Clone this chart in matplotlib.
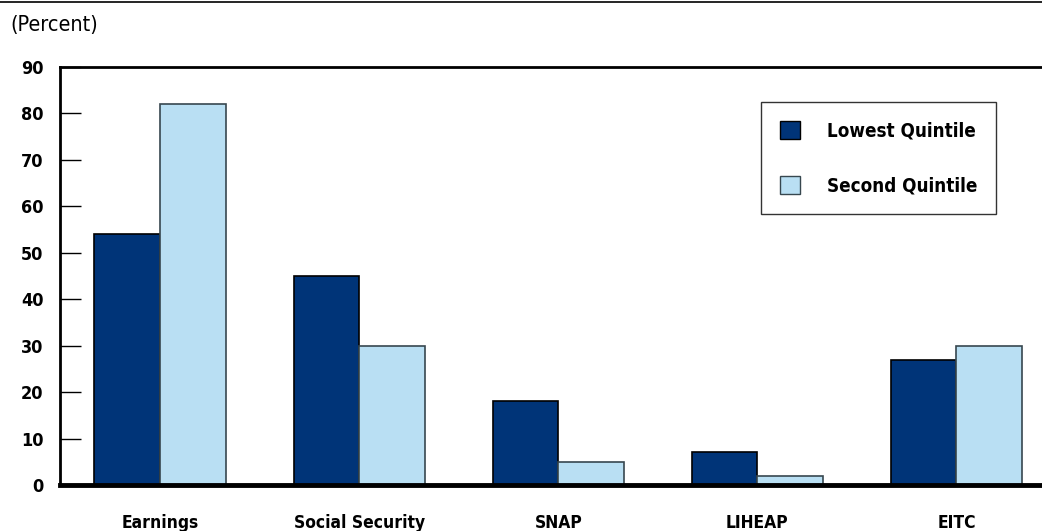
import matplotlib.pyplot as plt
import numpy as np
from matplotlib.lines import Line2D
from matplotlib.patches import Patch

plt.rcParams['font.family'] = ['DejaVu Sans']
plt.rcParams['font.stretch'] = 'condensed'

categories = ['Earnings', 'Social Security', 'SNAP', 'LIHEAP', 'EITC']
lowest = [54, 45, 18, 7, 27]
second = [82, 30, 5, 2, 30]

dark = '#003478'
light = '#b9dff3'

fig = plt.figure(figsize=(10.42, 5.31), dpi=100)
ax = fig.add_axes([60/1042, 46/531, 1 - 60/1042, (485-67)/531])

index = np.arange(len(categories))
bar_width = 0.33

ax.bar(index - bar_width/2, lowest, bar_width, color=dark, edgecolor='black', linewidth=1.2)
ax.bar(index + bar_width/2, second, bar_width, color=light, edgecolor='#37474f', linewidth=1.2)

ax.set_xlim(-0.503, 4.43)
ax.set_ylim(0, 90)
ax.set_yticks(range(0, 91, 10))
ax.set_yticklabels([str(v) for v in range(0, 91, 10)], fontsize=13, fontweight='bold')
ax.tick_params(axis='y', direction='in', length=15, width=1, pad=12)
ax.set_xticks(index)
ax.set_xticklabels(categories, fontsize=12.5, fontweight='bold')
ax.tick_params(axis='x', length=0, pad=21)

ax.spines['right'].set_visible(False)
ax.spines['top'].set_linewidth(2)
ax.spines['left'].set_linewidth(2)
ax.spines['bottom'].set_linewidth(3.5)

handles = [Patch(facecolor=dark, edgecolor='black'), Patch(facecolor=light, edgecolor='#37474f')]
leg = ax.legend(handles, ['Lowest Quintile', 'Second Quintile'],
                loc='upper left', bbox_to_anchor=(761/1042, 1 - 102/531),
                bbox_transform=fig.transFigure, frameon=True, fancybox=False,
                prop={'size': 13.5, 'weight': 'bold'}, handlelength=1.1, handleheight=1.1,
                labelspacing=1.9, borderpad=1.0, handletextpad=1.4, borderaxespad=0)
leg.get_frame().set_edgecolor('black')
leg.get_frame().set_linewidth(1)

fig.text(10/1042, 1 - 25/531, '(Percent)', fontsize=15.5, va='center', ha='left')
fig.add_artist(Line2D([0, 1], [1 - 2/531, 1 - 2/531], color='black', linewidth=1.2,
                      transform=fig.transFigure))

fig.savefig('out.png', dpi=100)
